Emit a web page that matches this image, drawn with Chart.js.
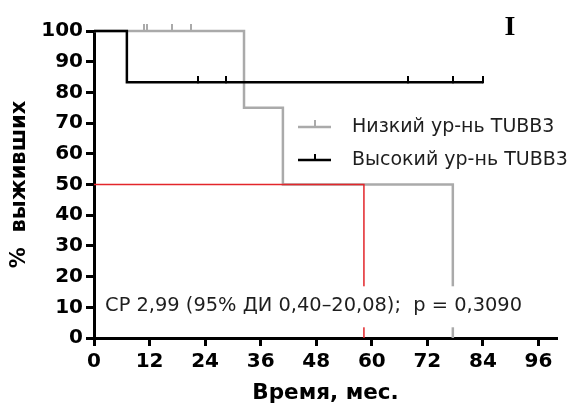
<!DOCTYPE html>
<html><head><meta charset="utf-8">
<script src="https://cdn.jsdelivr.net/npm/chart.js@4/dist/chart.umd.min.js"></script>
<style>html,body{margin:0;padding:0;background:#fff}#wrap{width:576px;height:408px;position:relative}</style>
</head><body><div id="wrap"><canvas id="c" width="576" height="408"></canvas></div>
<script>
// ---- data ----
const seriesNames = ['Низкий ур-нь TUBB3', 'Высокий ур-нь TUBB3'];
const lowTimes = [0, 32.4, 40.8, 77.5];
const lowSurv = [100, 75, 50, 0];
const lowCensorTimes = [10.8, 11.4, 16.8, 21];
const lowCensorSurv = [100, 100, 100, 100];
const highTimes = [0, 7.1, 84];
const highSurv = [100, 83.3, 83.3];
const highCensorTimes = [22.5, 28.5, 67.8, 77.5, 84];
const highCensorSurv = [83.3, 83.3, 83.3, 83.3, 83.3];
const medianTimes = [0, 58.3, 58.3];
const medianSurv = [50, 50, 0];
const xTicks = [0, 12, 24, 36, 48, 60, 72, 84, 96];
const yTicks = [0, 10, 20, 30, 40, 50, 60, 70, 80, 90, 100];
const annotationText = 'СР 2,99 (95% ДИ 0,40–20,08);  p = 0,3090';
const annotationAt = [2.4, 10];
const panelLabel = 'I';
const xTitle = 'Время, мес.';
const yTitle = '%  выживших';

const GRAY = '#aaaaaa', BLACK = '#000000', RED = '#e3262b';

function pts(xs, ys) { return xs.map((x, i) => ({x: x, y: ys[i]})); }
function tickMark(color, w, h) {
  const c = document.createElement('canvas');
  c.width = w; c.height = h * 2;
  const g = c.getContext('2d');
  g.fillStyle = color; g.fillRect(0, 0, w, h + 1);
  return c;
}
const grayTick = tickMark(GRAY, 2, 7);
const blackTick = tickMark(BLACK, 2, 6);

const overlay = {
  id: 'overlay',
  afterDatasetsDraw(chart) {
    const ctx = chart.ctx, xs = chart.scales.x, ys = chart.scales.y;
    ctx.save();
    // annotation with white box
    ctx.font = '19.4px "DejaVu Sans"';
    const tx = xs.getPixelForValue(annotationAt[0]);
    const ty = ys.getPixelForValue(annotationAt[1]) - 1;
    const tw = ctx.measureText(annotationText).width;
    ctx.fillStyle = '#fff';
    ctx.fillRect(tx - 4, ty - 20, tw + 8, 41);
    ctx.fillStyle = '#1e1e1e';
    ctx.textBaseline = 'middle';
    ctx.textAlign = 'left';
    ctx.fillText(annotationText, tx, ty);
    // legend
    ctx.font = '19px "DejaVu Sans"';
    const rows = [{c: GRAY, y: 127, t: seriesNames[0], h: 7}, {c: BLACK, y: 160, t: seriesNames[1], h: 6}];
    rows.forEach(r => {
      ctx.strokeStyle = r.c; ctx.lineWidth = 2.5;
      ctx.beginPath(); ctx.moveTo(298, r.y); ctx.lineTo(331, r.y); ctx.stroke();
      ctx.lineWidth = 2;
      ctx.beginPath(); ctx.moveTo(315, r.y); ctx.lineTo(315, r.y - r.h); ctx.stroke();
      ctx.fillStyle = '#1e1e1e';
      ctx.fillText(r.t, 352, r.y);
    });
    // panel label
    ctx.font = 'bold 28px "Liberation Serif"';
    ctx.fillStyle = '#000';
    ctx.textAlign = 'center';
    ctx.fillText(panelLabel, 510, 28);
    ctx.restore();
  }
};

const tickFont = {family: 'DejaVu Sans', weight: 'bold', size: 20};
new Chart(document.getElementById('c'), {
  type: 'line',
  data: {
    datasets: [
      {data: pts(medianTimes, medianSurv), borderColor: RED, borderWidth: 1.5, pointRadius: 0, fill: false, clip: false, order: 0},
      {data: pts(highCensorTimes, highCensorSurv), showLine: false, pointStyle: blackTick, pointRadius: 4, clip: false, order: 1},
      {data: pts(highTimes, highSurv), borderColor: BLACK, borderWidth: 2.5, stepped: 'before', pointRadius: 0, fill: false, clip: false, order: 2},
      {data: pts(lowCensorTimes, lowCensorSurv), showLine: false, pointStyle: grayTick, pointRadius: 4, clip: false, order: 3},
      {data: pts(lowTimes, lowSurv), borderColor: GRAY, borderWidth: 2.5, stepped: 'before', pointRadius: 0, fill: false, clip: false, order: 4}
    ]
  },
  options: {
    responsive: false, animation: false, events: [],
    layout: {padding: {left: 0, right: 19, top: 31, bottom: 0}},
    plugins: {legend: {display: false}, tooltip: {enabled: false}},
    scales: {
      x: {
        type: 'linear', min: 0, max: 100,
        afterBuildTicks: s => { s.ticks = xTicks.map(v => ({value: v})); },
        afterFit: s => { s.height = 70; },
        border: {display: true, color: '#000', width: 3},
        grid: {display: true, drawOnChartArea: false, drawTicks: true, tickLength: 8, tickWidth: 3, tickColor: '#000'},
        ticks: {color: '#000', font: tickFont, padding: 4, maxRotation: 0, autoSkip: false},
        title: {display: true, text: xTitle, color: '#000', font: {family: 'DejaVu Sans', weight: 'bold', size: 21.5}, padding: {top: 0, bottom: 2}}
      },
      y: {
        type: 'linear', min: 0, max: 100,
        afterBuildTicks: s => { s.ticks = yTicks.map(v => ({value: v})); },
        afterFit: s => { s.width = 94; },
        border: {display: true, color: '#000', width: 3},
        grid: {display: true, drawOnChartArea: false, drawTicks: true, tickLength: 8, tickWidth: 3, tickColor: '#000'},
        ticks: {color: '#000', font: tickFont, padding: 3, autoSkip: false},
        title: {display: true, text: yTitle, color: '#000', font: {family: 'DejaVu Sans', weight: 'bold', size: 21}, padding: {top: 7, bottom: 0}}
      }
    }
  },
  plugins: [overlay]
});
</script>
</body></html>
